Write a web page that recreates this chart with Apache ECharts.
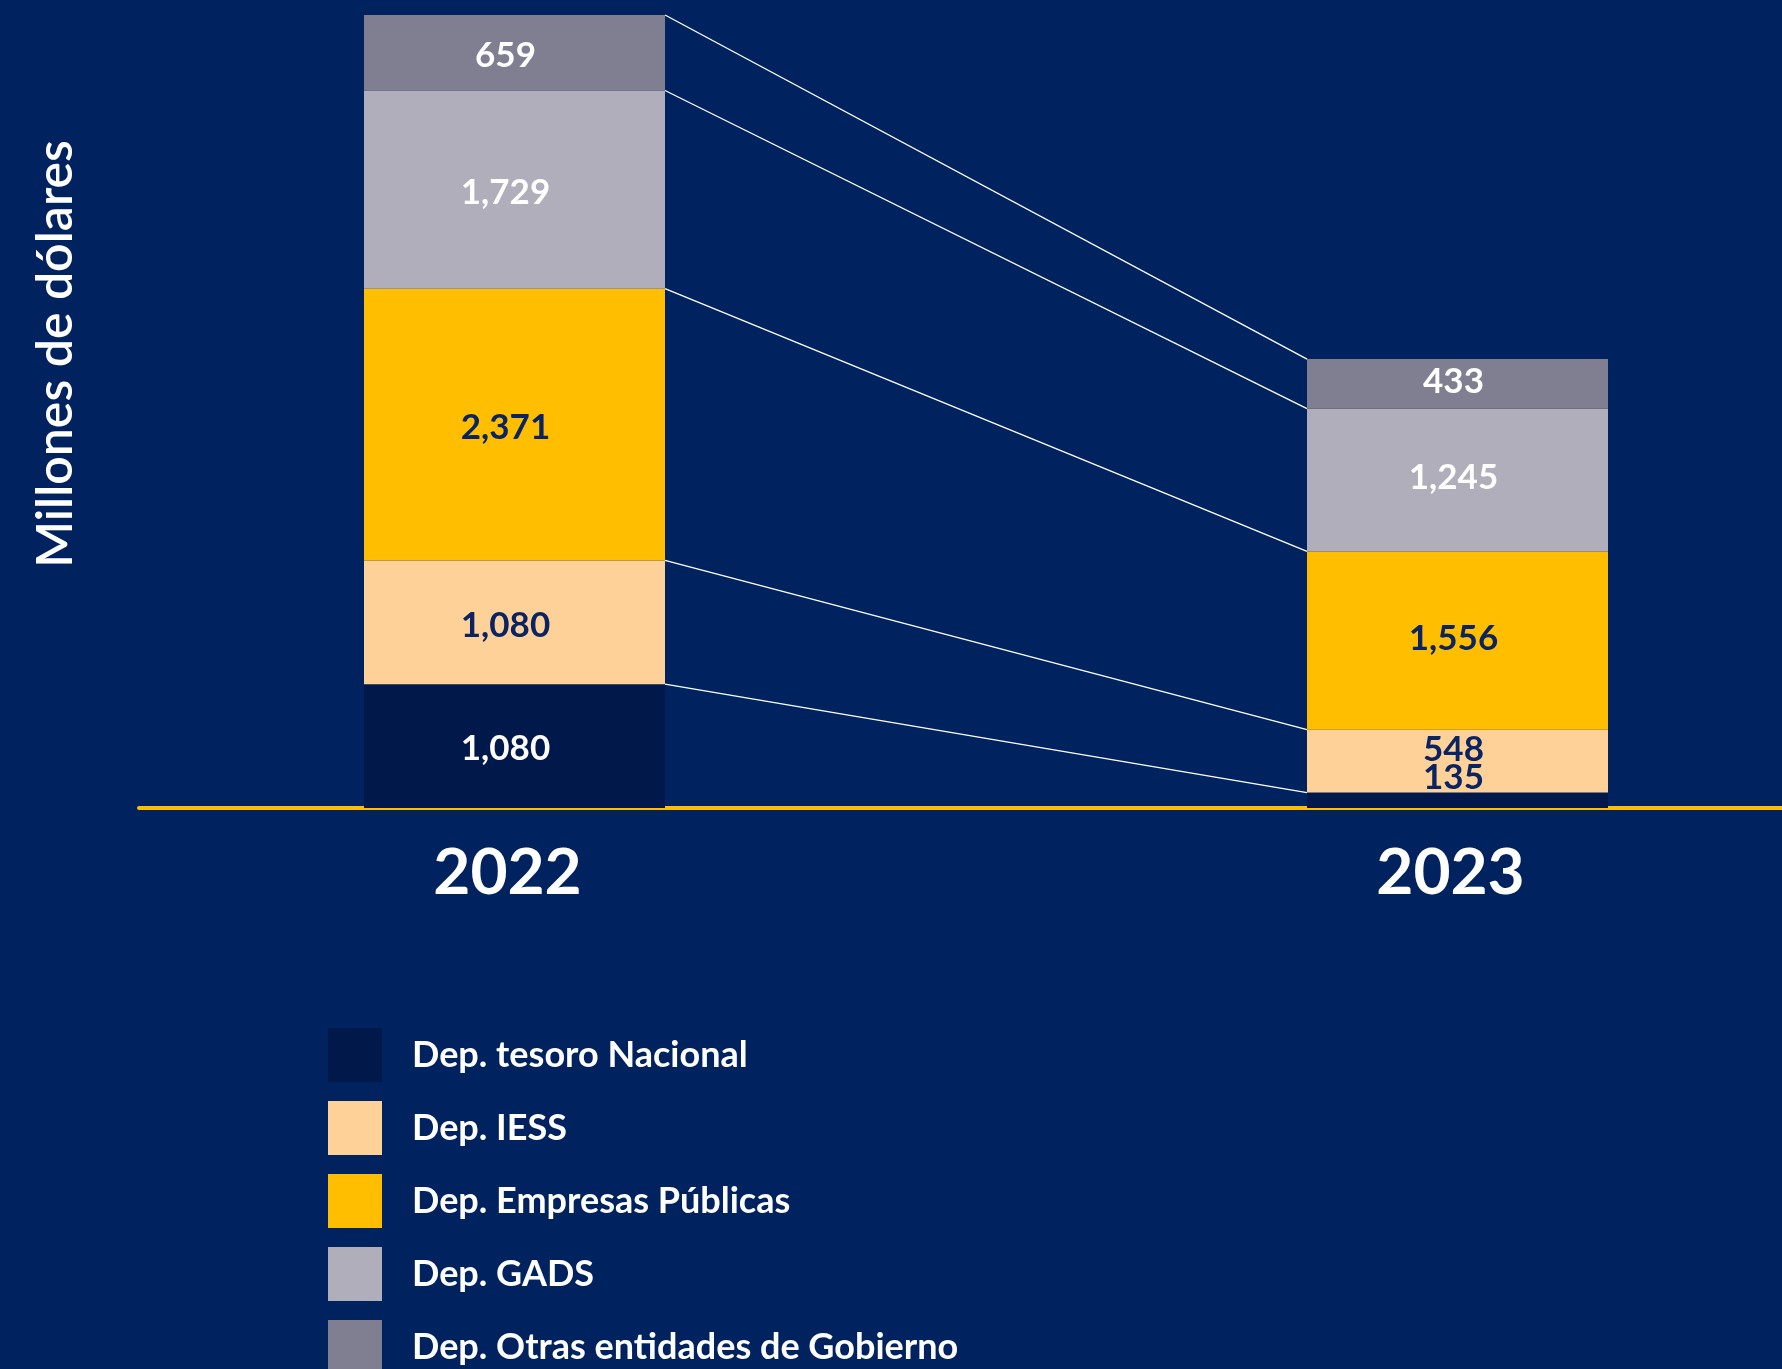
<!DOCTYPE html>
<html>
<head>
<meta charset="utf-8">
<script src="https://cdn.jsdelivr.net/npm/echarts@6/dist/echarts.min.js"></script>
<style>
  html, body { margin: 0; padding: 0; background: #00235f; }
  #chart { width: 1782px; height: 1369px; }
</style>
</head>
<body>
<div id="chart"></div>
<script>
  // datos (millones de dólares)
  var years = ['2022', '2023'];
  var seriesNames = [
    'Dep. tesoro Nacional',
    'Dep. IESS',
    'Dep. Empresas Públicas',
    'Dep. GADS',
    'Dep. Otras entidades de Gobierno'
  ];
  var tesoro = [1080, 135];
  var iess = [1080, 548];
  var empresas = [2371, 1556];
  var gads = [1729, 1245];
  var otras = [659, 433];

  var colors = ['#00184a', '#fed198', '#ffbe00', '#b0aebb', '#807f91'];
  var labelColors = ['#ffffff', '#0a2463', '#0a2463', '#ffffff', '#ffffff'];
  var navy = '#00235f';
  var barW = 301;

  var stacks = [tesoro, iess, empresas, gads, otras];

  // topes acumulados de cada tramo, para las lineas de union
  var joinData = [];
  var acc = [0, 0];
  stacks.forEach(function (s) {
    acc = [acc[0] + s[0], acc[1] + s[1]];
    joinData.push([0, acc[0], acc[1]]);
  });

  // las etiquetas van un poco desplazadas del centro de la barra
  var labelDx = [-9, -4];
  var labelDy = [3, -2];
  // ajustes de etiqueta para los tramos pequeños de 2023
  var labelShift = { '0-1': -21, '1-1': -9 };

  var barSeries = stacks.map(function (vals, i) {
    return {
      name: seriesNames[i],
      type: 'bar',
      stack: 'total',
      barWidth: barW,
      clip: false,
      itemStyle: { color: colors[i] },
      label: {
        show: true,
        position: 'inside',
        color: labelColors[i],
        fontFamily: 'Lato',
        fontWeight: 'bold',
        fontSize: 35,
        formatter: function (p) { return p.value.toLocaleString('en-US'); }
      },
      data: vals.map(function (v, j) {
        var shift = labelShift[i + '-' + j] || 0;
        var lab = { offset: [labelDx[j], shift + labelDy[j]] };
        if (shift) {
          lab.color = '#0a2463';
        }
        return { value: v, label: lab };
      }),
      z: 3
    };
  });

  var chart = echarts.init(document.getElementById('chart'));
  chart.setOption({
    backgroundColor: navy,
    animation: false,
    grid: [
      { left: 514.5, right: 324.5, top: 0, bottom: 561 },
      { left: 139, right: 0, top: 0, bottom: 561 }
    ],
    legend: {
      orient: 'vertical',
      left: 328,
      top: 1028,
      height: 400,
      padding: 0,
      itemWidth: 54,
      itemHeight: 54,
      itemGap: 19,
      icon: 'rect',
      selectedMode: false,
      data: seriesNames,
      textStyle: {
        color: '#ffffff',
        fontFamily: 'Lato',
        fontWeight: 'bold',
        fontSize: 36,
        padding: [0, 0, 0, 25]
      }
    },
    xAxis: [
      {
        type: 'category',
        gridIndex: 0,
        data: years,
        boundaryGap: false,
        axisLine: { show: false },
        axisTick: { show: false },
        axisLabel: {
          color: '#ffffff',
          fontFamily: 'Lato',
          fontWeight: 'bold',
          fontSize: 64,
          margin: 33,
          padding: [0, 14, 0, 0]
        }
      },
      {
        type: 'value',
        gridIndex: 1,
        min: 0,
        max: 1,
        axisLine: { show: true, lineStyle: { color: '#ffbe00', width: 4, cap: 'round' } },
        axisTick: { show: false },
        axisLabel: { show: false },
        splitLine: { show: false }
      }
    ],
    yAxis: [
      {
        type: 'value',
        gridIndex: 0,
        min: 0,
        max: 7050,
        axisLine: { show: false },
        axisTick: { show: false },
        axisLabel: { show: false },
        splitLine: { show: false }
      },
      {
        type: 'value',
        gridIndex: 1,
        min: 0,
        max: 1,
        name: 'Millones de dólares',
        nameLocation: 'middle',
        nameRotate: 90,
        nameGap: 58,
        nameTextStyle: {
          color: '#ffffff',
          fontFamily: 'Lato',
          fontWeight: 600,
          fontSize: 50,
          padding: [0, 0, 0, 100]
        },
        axisLine: { show: false, onZero: false },
        axisTick: { show: false },
        axisLabel: { show: false },
        splitLine: { show: false }
      }
    ],
    series: barSeries.concat([{
      type: 'custom',
      name: 'union',
      xAxisIndex: 0,
      yAxisIndex: 0,
      silent: true,
      clip: false,
      encode: { x: 0, y: [1, 2] },
      data: joinData,
      renderItem: function (params, api) {
        var p0 = api.coord([0, api.value(1)]);
        var p1 = api.coord([1, api.value(2)]);
        return {
          type: 'line',
          shape: { x1: p0[0] + barW / 2, y1: p0[1], x2: p1[0] - barW / 2, y2: p1[1] },
          style: { stroke: '#ffffff', lineWidth: 1.3 }
        };
      },
      z: 2
    }])
  });
</script>
</body>
</html>
